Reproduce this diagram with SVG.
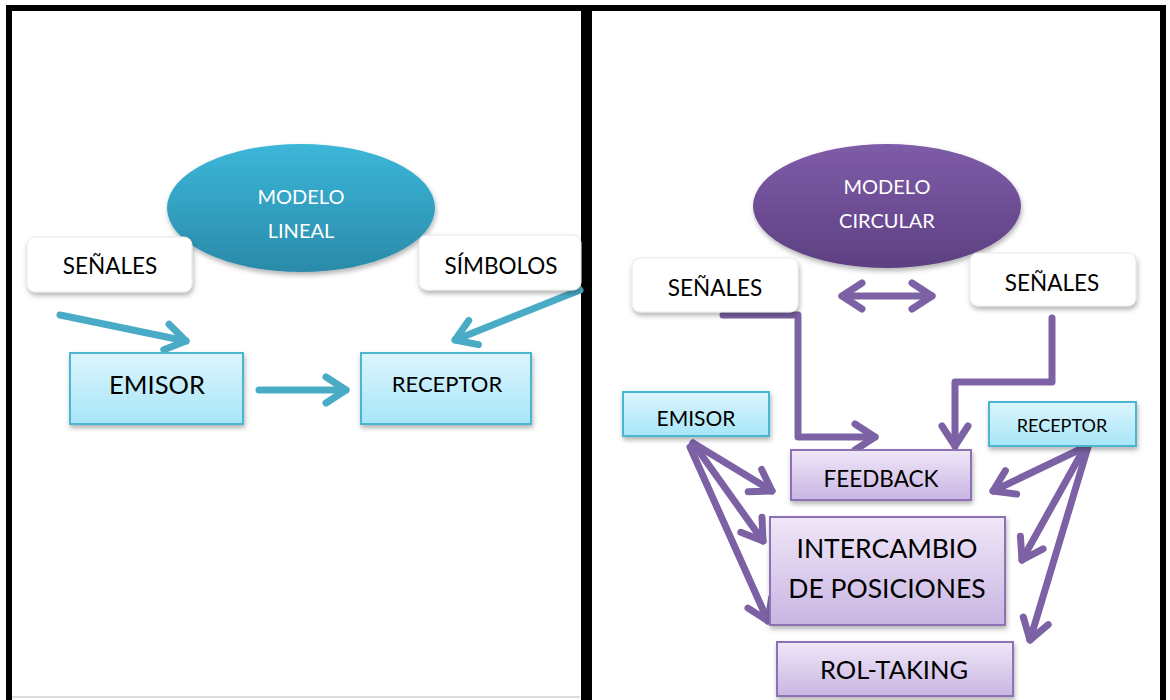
<svg xmlns="http://www.w3.org/2000/svg" width="1170" height="700" viewBox="0 0 1170 700">
<defs>
<linearGradient id="gBlueEll" x1="0" y1="0" x2="0" y2="1"><stop offset="0" stop-color="#3cb7d9"/><stop offset="1" stop-color="#2a8aa9"/></linearGradient>
<linearGradient id="gPurEll" x1="0" y1="0" x2="0" y2="1"><stop offset="0" stop-color="#7f5ca9"/><stop offset="1" stop-color="#5d4082"/></linearGradient>
<linearGradient id="gCyan" x1="0" y1="0" x2="0" y2="1"><stop offset="0" stop-color="#dcf5fd"/><stop offset="1" stop-color="#a7e6f8"/></linearGradient>
<linearGradient id="gLav" x1="0" y1="0" x2="0" y2="1"><stop offset="0" stop-color="#efe7f8"/><stop offset="1" stop-color="#c9b5e2"/></linearGradient>
<filter id="sh" x="-20%" y="-20%" width="140%" height="150%"><feDropShadow dx="1" dy="3" stdDeviation="2.5" flood-color="#000" flood-opacity="0.3"/></filter>
<marker id="hb" viewBox="0 0 34 34" refX="30" refY="17" markerWidth="34" markerHeight="34" orient="auto-start-reverse" markerUnits="userSpaceOnUse" overflow="visible"><path d="M 10 4 L 30 17 L 10 30" fill="none" stroke="#4aabc6" stroke-width="7" stroke-linecap="round" stroke-linejoin="round"/></marker>
<marker id="hp" viewBox="0 0 34 34" refX="30" refY="17" markerWidth="34" markerHeight="34" orient="auto-start-reverse" markerUnits="userSpaceOnUse" overflow="visible"><path d="M 10 4 L 30 17 L 10 30" fill="none" stroke="#7c62a4" stroke-width="7" stroke-linecap="round" stroke-linejoin="round"/></marker>
</defs>
<style>
text{font-family:Lato,"Open Sans","Liberation Sans",sans-serif;text-anchor:middle;fill:#000}
.w{fill:#fff}
.white{fill:#fff;stroke:#e8e8e8;stroke-width:1}
.cyan{fill:url(#gCyan);stroke:#4cb6cf;stroke-width:2}
.lav{fill:url(#gLav);stroke:#8e70b4;stroke-width:2}
.bl{fill:none;stroke:#4aabc6;stroke-width:7;stroke-linecap:round;stroke-linejoin:round;marker-end:url(#hb)}
.pu{fill:none;stroke:#7c62a4;stroke-width:7;stroke-linecap:round;stroke-linejoin:round;marker-end:url(#hp)}
</style>
<rect width="1170" height="700" fill="#fff"/>
<g id="frame" fill="none" stroke="#000">
<rect x="9" y="8" width="575" height="700" stroke-width="6"/>
<rect x="589" y="8" width="574" height="700" stroke-width="6"/>
<rect x="583" y="8" width="6" height="700" fill="#000" stroke="none"/>
<line x1="12" y1="697" x2="580" y2="697" stroke="#bbb" stroke-width="1"/>
</g>
<g id="connectors">
<line class="bl" x1="60" y1="315" x2="186" y2="341"/>
<line class="bl" x1="259" y1="390" x2="346" y2="390"/>
<line class="bl" x1="580" y1="290" x2="455" y2="340"/>
<line class="pu" x1="842" y1="296" x2="932" y2="296" marker-start="url(#hp)"/>
<polyline class="pu" points="723,315 798,315 798,437 875,437"/>
<polyline class="pu" points="1052,318 1052,382 955,382 955,446"/>
<line class="pu" x1="693" y1="443" x2="772" y2="491"/>
<line class="pu" x1="693" y1="443" x2="763" y2="541"/>
<line class="pu" x1="690" y1="447" x2="768" y2="621"/>
<line class="pu" x1="1085" y1="447" x2="993" y2="491"/>
<line class="pu" x1="1085" y1="447" x2="1022" y2="560"/>
<line class="pu" x1="1088" y1="447" x2="1030" y2="640"/>
</g>
<g id="modelo-lineal"><ellipse cx="301" cy="208" rx="134" ry="64" fill="url(#gBlueEll)" filter="url(#sh)"/><text class="w" x="301" y="204" font-size="20">MODELO</text><text class="w" x="301" y="238" font-size="20">LINEAL</text></g>
<g id="senales-1"><rect class="white" x="27" y="237" width="165" height="55" rx="8" filter="url(#sh)"/><text x="110" y="274" font-size="22.5">SEÑALES</text></g>
<g id="simbolos"><rect class="white" x="419" y="235" width="162" height="55" rx="8" filter="url(#sh)"/><text x="501" y="274" font-size="22.5">SÍMBOLOS</text></g>
<g id="emisor-1"><rect class="cyan" x="70" y="353" width="173" height="71" filter="url(#sh)"/><text x="157" y="394" font-size="25.5">EMISOR</text></g>
<g id="receptor-1"><rect class="cyan" x="361" y="353" width="170" height="71" filter="url(#sh)"/><text x="447" y="392" font-size="22">RECEPTOR</text></g>
<g id="modelo-circular"><ellipse cx="887" cy="206" rx="134" ry="62" fill="url(#gPurEll)" filter="url(#sh)"/><text class="w" x="887" y="194" font-size="20">MODELO</text><text class="w" x="887" y="228" font-size="20">CIRCULAR</text></g>
<g id="senales-2"><rect class="white" x="632" y="258" width="166" height="54" rx="8" filter="url(#sh)"/><text x="715" y="296" font-size="22.5">SEÑALES</text></g>
<g id="senales-3"><rect class="white" x="970" y="253" width="166" height="53" rx="8" filter="url(#sh)"/><text x="1052" y="291" font-size="22.5">SEÑALES</text></g>
<g id="emisor-2"><rect class="cyan" x="623" y="392" width="146" height="44" filter="url(#sh)"/><text x="696" y="426" font-size="21">EMISOR</text></g>
<g id="receptor-2"><rect class="cyan" x="989" y="402" width="147" height="44" filter="url(#sh)"/><text x="1062" y="432" font-size="18">RECEPTOR</text></g>
<g id="feedback"><rect class="lav" x="791" y="450" width="180" height="50" filter="url(#sh)"/><text x="881" y="487" font-size="22.5">FEEDBACK</text></g>
<g id="intercambio"><rect class="lav" x="770" y="517" width="235" height="108" filter="url(#sh)"/><text x="887" y="558" font-size="26.5">INTERCAMBIO</text><text x="887" y="598" font-size="26.5">DE POSICIONES</text></g>
<g id="rol-taking"><rect class="lav" x="777" y="642" width="236" height="54" filter="url(#sh)"/><text x="894" y="679" font-size="25.5">ROL-TAKING</text></g>
</svg>
